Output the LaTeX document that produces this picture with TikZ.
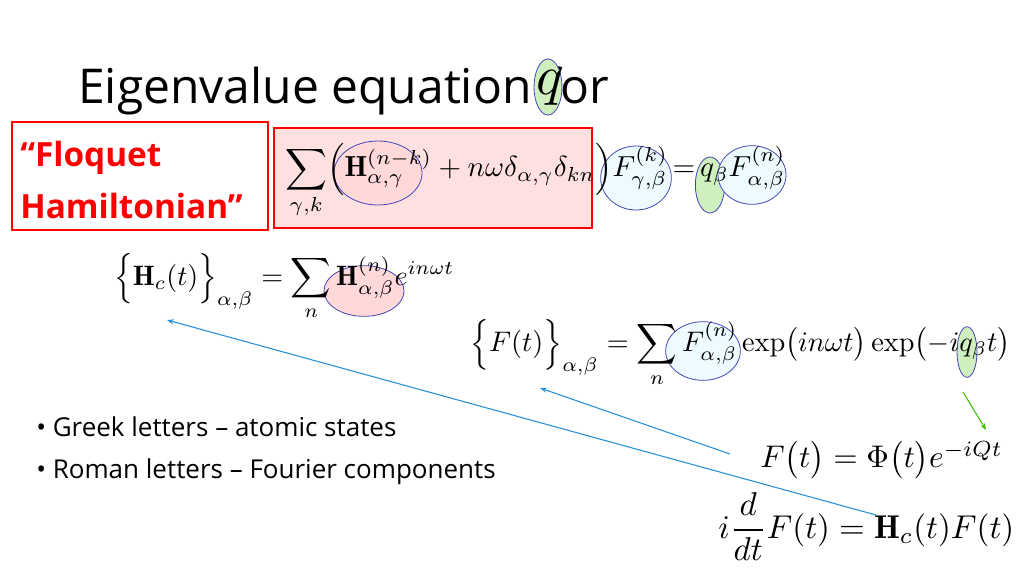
\documentclass[tikz,border=0pt]{standalone}
\usepackage{fontspec}
\setsansfont{Open Sans}
\usetikzlibrary{shapes.geometric,arrows.meta}
\begin{document}
\begin{tikzpicture}[x=0.75pt,y=-0.75pt,
  pinkell/.style={ellipse,draw=blue!45!gray,fill=red!15,line width=0.6pt,inner sep=0pt},
  blueell/.style={ellipse,draw=blue!45!gray,fill=blue!30!cyan!7,line width=0.6pt,inner sep=0pt},
  greenell/.style={ellipse,draw=blue!45!gray,fill=green!50!olive!25,line width=0.6pt,inner sep=0pt},
  eq/.style={inner sep=0pt},
  arr/.style={-{Stealth[length=5pt]},line width=0.8pt}]
\useasboundingbox (0,0) rectangle (1024,575);
\fill[white] (0,0) rectangle (1024,575);
% title
\node[anchor=base west,inner sep=0pt,font=\sffamily\fontsize{36}{40}\selectfont] (title) at (78,103) {Eigenvalue equation for};
\node[greenell,minimum width=21pt,minimum height=42pt] (qe) at (548,87) {};
\node[eq] (qt) at (550,88) {\resizebox{!}{18pt}{$q$}};
% boxes
\node[draw=red,line width=1.5pt,minimum width=192pt,minimum height=81pt,inner sep=0pt] (fl) at (140,176) {};
\node[align=left,text=red,font=\sffamily\bfseries\fontsize{25}{39}\selectfont,anchor=west,inner sep=0pt] (flt) at (20,180) {“Floquet\\Hamiltonian”};
\node[draw=red,fill=red!12,line width=1.5pt,minimum width=238pt,minimum height=75pt,inner sep=0pt] (hb) at (433,178) {};
% ellipses eq1
\node[pinkell,minimum width=66pt,minimum height=48pt] (e1) at (378,173) {};
\node[blueell,minimum width=53pt,minimum height=48pt] (e2) at (636,178) {};
\node[greenell,minimum width=22pt,minimum height=42pt] (e3) at (710,185) {};
\node[blueell,minimum width=51pt,minimum height=44pt] (e4) at (752,175) {};
\node[eq,anchor=west] (eq1) at (285,181) {\resizebox{375pt}{!}{$\displaystyle\sum_{\gamma,k}\Bigl(\mathbf{H}_{\alpha,\gamma}^{(n-k)}+n\omega\delta_{\alpha,\gamma}\delta_{kn}\Bigr)F_{\gamma,\beta}^{(k)}\,{=}\,q_\beta F_{\alpha,\beta}^{(n)}$}};
% eq2
\node[pinkell,minimum width=60pt,minimum height=38pt] (e5) at (364,291) {};
\node[eq,anchor=west] (eq2) at (114,287) {\resizebox{255pt}{!}{$\displaystyle\Bigl\{\mathbf{H}_{c}(t)\Bigr\}_{\alpha,\beta}=\sum_{n}\mathbf{H}_{\alpha,\beta}^{(n)}e^{in\omega t}$}};
% eq3
\node[blueell,minimum width=56pt,minimum height=44pt] (e6) at (703,351) {};
\node[greenell,minimum width=15pt,minimum height=38pt] (e7) at (967,352) {};
\node[eq,anchor=west] (eq3) at (470,353) {\resizebox{405pt}{!}{$\displaystyle\Bigl\{F(t)\Bigr\}_{\alpha,\beta}=\sum_{n}F_{\alpha,\beta}^{(n)}\exp\bigl(in\omega t\bigr)\exp\bigl(-iq_\beta t\bigr)$}};
% eq4, eq5
\node[eq,anchor=west] (eq4) at (760,460) {\resizebox{182pt}{!}{$F\bigl(t\bigr)=\Phi\bigl(t\bigr)e^{-iQt}$}};
\node[eq,anchor=west] (eq5) at (718,527) {\resizebox{222pt}{!}{$\displaystyle i\frac{d}{dt}F(t)=\mathbf{H}_c(t)F(t)$}};
% bullets
\node[anchor=base west,inner sep=0pt,font=\sffamily\fontsize{19.5}{22}\selectfont] (b1) at (36,436) {\textbullet\ Greek letters – atomic states};
\node[anchor=base west,inner sep=0pt,font=\sffamily\fontsize{19.5}{22}\selectfont] (b2) at (36,478) {\textbullet\ Roman letters – Fourier components};
% arrows
\coordinate (a1s) at (876,515); \coordinate (a1e) at (167,320);
\coordinate (a2s) at (730,454); \coordinate (a2e) at (540,388);
\coordinate (a3s) at (963,392); \coordinate (a3e) at (986,430);
\draw[arr,color=blue!40!cyan!70!gray] (a1s) -- (a1e);
\draw[arr,color=blue!40!cyan!70!gray] (a2s) -- (a2e);
\draw[arr,color=green!50!olive] (a3s) -- (a3e);
\end{tikzpicture}
\end{document}
